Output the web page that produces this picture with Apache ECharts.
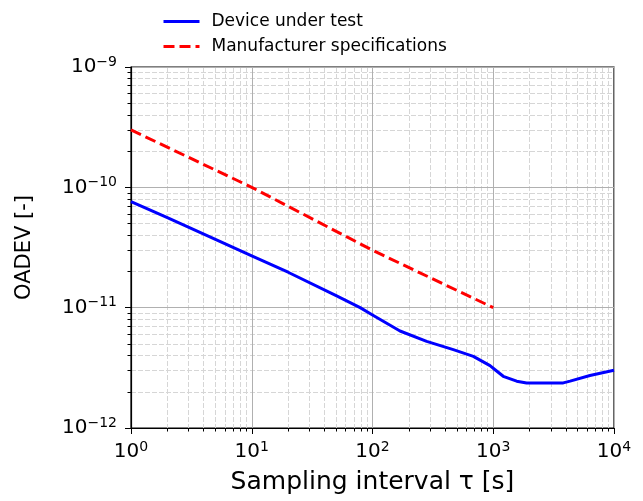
<!DOCTYPE html>
<html>
<head>
<meta charset="utf-8">
<script src="https://cdn.jsdelivr.net/npm/echarts@6/dist/echarts.min.js"></script>
<style>
  html, body { margin: 0; padding: 0; background: #fff; }
  #chart { width: 643px; height: 501px; }
</style>
</head>
<body>
<div id="chart"></div>
<script>
// sampling interval tau [s] and OADEV of the device under test
const tauDut = [1, 2, 5, 10, 20, 50, 79, 100, 169, 281, 467, 684, 940, 1035, 1210, 1563, 1890, 3800, 4330, 6320, 10000]
const oadevDut = [7.6e-11, 5.6e-11, 3.7e-11, 2.7e-11, 1.97e-11, 1.26e-11, 1.0e-11, 8.7e-12, 6.4e-12, 5.25e-12, 4.48e-12, 3.94e-12, 3.3e-12, 3.05e-12, 2.69e-12, 2.45e-12, 2.37e-12, 2.37e-12, 2.45e-12, 2.73e-12, 3.02e-12]

// manufacturer specifications
const tauSpec = [1, 10, 100, 1000]
const oadevSpec = [3e-10, 1e-10, 3e-11, 1e-11]

// minor ticks (2..9 per decade), as log10 values
const minorFactors = [2, 3, 4, 5, 6, 7, 8, 9]
const xDecades = [0, 1, 2, 3]
const yDecades = [-12, -11, -10]

const FONT = 'DejaVu Sans'
const minorX = []
xDecades.forEach((d) => minorFactors.forEach((k) => minorX.push(d + Math.log10(k))))
const minorY = []
yDecades.forEach((d) => minorFactors.forEach((k) => minorY.push(d + Math.log10(k))))

const powLabel = (value) => {
  const e = Math.round(Math.log10(value))
  return '{b|10}{s|' + String(e).replace('-', '\u2212') + '}'
}

const labelRich = {
  b: { fontFamily: FONT, fontSize: 20, color: '#000' },
  s: { fontFamily: FONT, fontSize: 14, color: '#000', padding: [0, 0, 10, 0] }
}

const minorAxisCommon = {
  type: 'value',
  axisLine: { show: false },
  axisTick: { show: true, inside: false, length: 3.5, lineStyle: { color: '#000', width: 1 } },
  splitLine: {
    show: true,
    lineStyle: { color: '#d6d6d6', width: 1, type: [5, 2] }
  }
}

const myChart = echarts.init(document.getElementById('chart'))
const option = {
  animation: false,
  backgroundColor: '#fff',
  legend: {
    orient: 'vertical',
    left: 162,
    top: 13,
    padding: 0,
    itemWidth: 36,
    itemHeight: 14,
    itemGap: 8,
    itemStyle: { opacity: 0 },
    lineStyle: { width: 3 },
    textStyle: { fontFamily: FONT, fontSize: 17, color: '#000', padding: [0, 0, 0, 7] },
    data: ['Device under test', 'Manufacturer specifications']
  },
  grid: {
    left: 131,
    right: 29,
    top: 67,
    bottom: 73,
    show: true,
    borderColor: '#000',
    borderWidth: 1.2,
    backgroundColor: 'transparent'
  },
  xAxis: [
    {
      type: 'log',
      logBase: 10,
      min: 1,
      max: 10000,
      name: 'Sampling interval \u03c4 [s]',
      nameLocation: 'middle',
      nameGap: 42,
      nameTextStyle: { fontFamily: FONT, fontSize: 25, color: '#000' },
      axisLine: { show: true, lineStyle: { color: '#000', width: 1.2 } },
      axisTick: { show: true, inside: false, length: 6, lineStyle: { color: '#000', width: 1 } },
      axisLabel: { margin: 12, formatter: powLabel, rich: labelRich },
      splitLine: { show: true, lineStyle: { color: '#b0b0b0', width: 1 } },
      z: 3
    },
    Object.assign({}, minorAxisCommon, {
      min: 0,
      max: 4,
      position: 'bottom',
      axisTick: Object.assign({}, minorAxisCommon.axisTick, { customValues: minorX }),
      axisLabel: { show: false, customValues: minorX }
    })
  ],
  yAxis: [
    {
      type: 'log',
      logBase: 10,
      min: 1e-12,
      max: 1e-9,
      name: 'OADEV [-]',
      nameLocation: 'middle',
      nameGap: 96,
      nameTextStyle: { fontFamily: FONT, fontSize: 21, color: '#000' },
      axisLine: { show: true, lineStyle: { color: '#000', width: 1.2 } },
      axisTick: { show: true, inside: false, length: 6, lineStyle: { color: '#000', width: 1 } },
      axisLabel: { margin: 14, formatter: powLabel, rich: labelRich },
      splitLine: { show: true, lineStyle: { color: '#b0b0b0', width: 1 } },
      z: 3
    },
    Object.assign({}, minorAxisCommon, {
      min: -12,
      max: -9,
      position: 'left',
      axisTick: Object.assign({}, minorAxisCommon.axisTick, { customValues: minorY }),
      axisLabel: { show: false, customValues: minorY }
    })
  ],
  series: [
    {
      name: 'Device under test',
      type: 'line',
      xAxisIndex: 0,
      yAxisIndex: 0,
      data: tauDut.map((t, i) => [t, oadevDut[i]]),
      symbol: 'none',
      lineStyle: { color: '#0000ff', width: 3, join: 'round' },
      itemStyle: { color: '#0000ff' },
      z: 5
    },
    {
      name: 'Manufacturer specifications',
      type: 'line',
      xAxisIndex: 0,
      yAxisIndex: 0,
      data: tauSpec.map((t, i) => [t, oadevSpec[i]]),
      symbol: 'none',
      lineStyle: { color: '#ff0000', width: 3, type: [11, 5] },
      itemStyle: { color: '#ff0000' },
      z: 5
    }
  ]
}
myChart.setOption(option)
</script>
</body>
</html>
